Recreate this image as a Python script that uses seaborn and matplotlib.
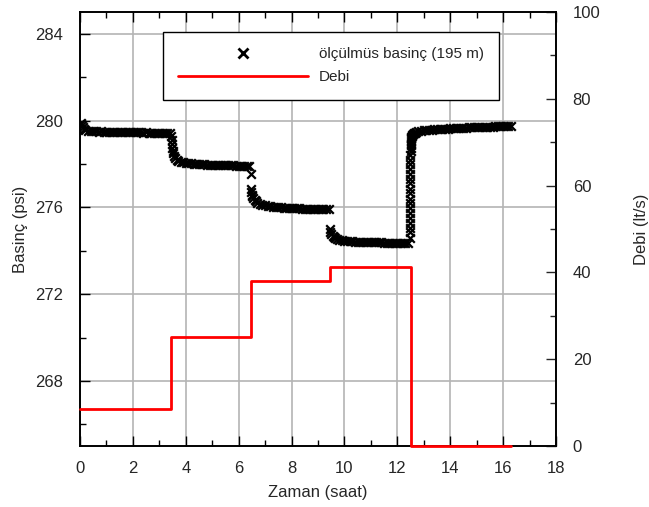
import numpy as np
import pandas as pd
import matplotlib
matplotlib.use("Agg")
import matplotlib.pyplot as plt
from matplotlib.lines import Line2D
from matplotlib.ticker import MultipleLocator
import seaborn as sns

# ---------------- data ----------------
t1 = [0.0, 0.03, 0.06, 0.1, 0.15, 0.2, 0.3, 0.4, 0.5, 0.6, 0.7, 0.8, 0.9, 1.0, 1.1, 1.2, 1.3,
      1.4, 1.5, 1.6, 1.7, 1.8, 1.9, 2.0, 2.1, 2.2, 2.3, 2.4, 2.5, 2.6, 2.7, 2.8, 2.9, 3.0, 3.1,
      3.2, 3.3, 3.4]
p1 = [279.85, 279.9, 279.8, 279.7, 279.62, 279.57, 279.53, 279.52, 279.5, 279.5, 279.49, 279.5,
      279.48, 279.49, 279.48, 279.47, 279.48, 279.47, 279.47, 279.46, 279.47, 279.46, 279.46,
      279.45, 279.46, 279.45, 279.45, 279.44, 279.45, 279.44, 279.44, 279.43, 279.44, 279.43,
      279.43, 279.44, 279.43, 279.42]

t2 = [3.45, 3.46, 3.47, 3.48, 3.5, 3.52, 3.55, 3.6, 3.65, 3.7, 3.8, 3.9, 4.0, 4.1, 4.2, 4.3,
      4.4, 4.5, 4.6, 4.7, 4.8, 4.9, 5.0, 5.1, 5.2, 5.3, 5.4, 5.5, 5.6, 5.7, 5.8, 5.9, 6.0, 6.1,
      6.2, 6.3, 6.4]
p2 = [279.3, 279.1, 278.9, 278.75, 278.6, 278.5, 278.38, 278.27, 278.2, 278.15, 278.1, 278.07,
      278.05, 278.03, 278.02, 278.0, 278.0, 277.99, 277.98, 277.98, 277.97, 277.97, 277.96,
      277.96, 277.95, 277.95, 277.94, 277.94, 277.93, 277.93, 277.93, 277.92, 277.92, 277.92,
      277.91, 277.91, 277.9]

t3 = [6.45, 6.47, 6.48, 6.5, 6.52, 6.55, 6.6, 6.65, 6.7, 6.8, 6.9, 7.0, 7.1, 7.2, 7.3, 7.4,
      7.5, 7.6, 7.7, 7.8, 7.9, 8.0, 8.1, 8.2, 8.3, 8.4, 8.5, 8.6, 8.7, 8.8, 8.9, 9.0, 9.1, 9.2,
      9.3, 9.4]
p3 = [277.55, 276.85, 276.7, 276.58, 276.5, 276.42, 276.33, 276.27, 276.22, 276.16, 276.12,
      276.09, 276.07, 276.05, 276.03, 276.02, 276.01, 276.0, 275.99, 275.98, 275.97, 275.96,
      275.96, 275.95, 275.95, 275.94, 275.94, 275.93, 275.93, 275.92, 275.92, 275.91, 275.91,
      275.9, 275.9, 275.9]

t4 = [9.45, 9.47, 9.5, 9.55, 9.6, 9.65, 9.7, 9.8, 9.9, 10.0, 10.1, 10.2, 10.3, 10.4, 10.5,
      10.6, 10.7, 10.8, 10.9, 11.0, 11.1, 11.2, 11.3, 11.4, 11.5, 11.6, 11.7, 11.8, 11.9, 12.0,
      12.1, 12.2, 12.3, 12.4]
p4 = [275.0, 274.88, 274.78, 274.68, 274.62, 274.58, 274.55, 274.51, 274.48, 274.46, 274.45,
      274.44, 274.43, 274.42, 274.42, 274.41, 274.41, 274.4, 274.4, 274.39, 274.39, 274.38,
      274.38, 274.38, 274.37, 274.37, 274.37, 274.36, 274.36, 274.36, 274.35, 274.35, 274.35,
      274.35]

t5 = [12.46, 12.46, 12.46, 12.47, 12.47, 12.47, 12.47, 12.47, 12.48, 12.48, 12.48, 12.48,
      12.48, 12.48, 12.49, 12.49, 12.49, 12.49, 12.5, 12.5, 12.5, 12.5, 12.51, 12.51, 12.52,
      12.53, 12.55, 12.57, 12.6, 12.63, 12.67, 12.72, 12.8, 12.9, 13.0, 13.1, 13.2, 13.3, 13.4,
      13.5, 13.6, 13.7, 13.8, 13.9, 14.0, 14.1, 14.2, 14.3, 14.4, 14.5, 14.6, 14.7, 14.8, 14.9,
      15.0, 15.1, 15.2, 15.3, 15.4, 15.5, 15.6, 15.7, 15.8, 15.9, 16.0, 16.1, 16.2, 16.3]
p5 = [274.6, 274.85, 275.05, 275.3, 275.5, 275.75, 275.95, 276.2, 276.4, 276.65, 276.85,
      277.1, 277.3, 277.55, 277.75, 278.0, 278.2, 278.4, 278.6, 278.75, 278.88, 278.98, 279.06,
      279.13, 279.19, 279.24, 279.3, 279.34, 279.38, 279.41, 279.44, 279.47, 279.5, 279.52,
      279.54, 279.55, 279.57, 279.58, 279.59, 279.6, 279.61, 279.62, 279.63, 279.63, 279.64,
      279.65, 279.65, 279.66, 279.66, 279.67, 279.67, 279.68, 279.68, 279.69, 279.69, 279.7,
      279.7, 279.71, 279.71, 279.72, 279.72, 279.73, 279.73, 279.74, 279.74, 279.75, 279.76,
      279.77]

debi_t = [0.0, 3.45, 6.45, 9.45, 12.5, 16.3]
debi_q = [8.5, 25.2, 38.0, 41.2, 0.0, 0.0]

pressure_label = "ölçülmüs basinç (195 m)"
debi_label = "Debi"

# ---------------- figure ----------------
sns.set_style("white")
plt.rcParams['font.family'] = ['Liberation Sans', 'DejaVu Sans']

fig = plt.figure(figsize=(6.49, 5.07), dpi=100)
ax = fig.add_axes([0.1233, 0.1203, 0.7334, 0.856])

press = pd.DataFrame({
    "t": t1 + t2 + t3 + t4 + t5,
    "p": p1 + p2 + p3 + p4 + p5,
})
sns.scatterplot(data=press, x="t", y="p", ax=ax, marker="x", color="black",
                s=38, linewidth=1.6, legend=False, zorder=3)

ax.set_xlim(0, 18)
ax.set_ylim(265, 285)
ax.xaxis.set_major_locator(MultipleLocator(2))
ax.xaxis.set_minor_locator(MultipleLocator(1))
ax.yaxis.set_minor_locator(MultipleLocator(2))
ax.set_yticks([268, 272, 276, 280, 284])
ax.grid(True, which="major", color="#b4b4b4", linewidth=1.2)
ax.set_axisbelow(True)
ax.tick_params(which="both", direction="in", top=True, left=True, bottom=True,
               right=False, labelsize=12, color="black")
ax.tick_params(which="major", length=7, width=1)
ax.tick_params(which="minor", length=4, width=1)
ax.tick_params(axis="x", which="major", pad=11)
ax.tick_params(axis="y", which="major", pad=12)
ax.set_xlabel("Zaman (saat)", fontsize=12, labelpad=6)
ax.set_ylabel("Basinç (psi)", fontsize=12, labelpad=5)
for sp in ax.spines.values():
    sp.set_color("black")
    sp.set_linewidth(1.2)

ax2 = ax.twinx()
debi = pd.DataFrame({"t": debi_t, "q": debi_q})
sns.lineplot(data=debi, x="t", y="q", ax=ax2, color="#ff0000", linewidth=2.0,
             drawstyle="steps-post", estimator=None, sort=False, legend=False,
             clip_on=False, zorder=4)
ax2.set_ylim(0, 100)
ax2.yaxis.set_major_locator(MultipleLocator(20))
ax2.yaxis.set_minor_locator(MultipleLocator(10))
ax2.tick_params(which="both", direction="in", right=True, labelsize=12, pad=12)
ax2.tick_params(which="major", length=7, width=1)
ax2.tick_params(which="minor", length=4, width=1)
ax2.set_ylabel("Debi (lt/s)", fontsize=12, labelpad=24)
ax2.grid(False)
for sp in ax2.spines.values():
    sp.set_color("black")
    sp.set_linewidth(1.2)

handles = [
    Line2D([], [], marker="x", color="black", linestyle="none", markersize=7,
           markeredgewidth=2.0),
    Line2D([], [], color="#ff0000", linewidth=2.0),
]
leg = ax2.legend(handles, [pressure_label, debi_label], loc="upper left",
                 bbox_to_anchor=(0.174, 0.954), borderaxespad=0, fontsize=11,
                 handlelength=8.5, handletextpad=0.7, borderpad=1.0, labelspacing=0.6,
                 frameon=True, fancybox=False, framealpha=1, edgecolor="black")
leg.get_frame().set_linewidth(1.0)

fig.savefig("out.png", dpi=100)
